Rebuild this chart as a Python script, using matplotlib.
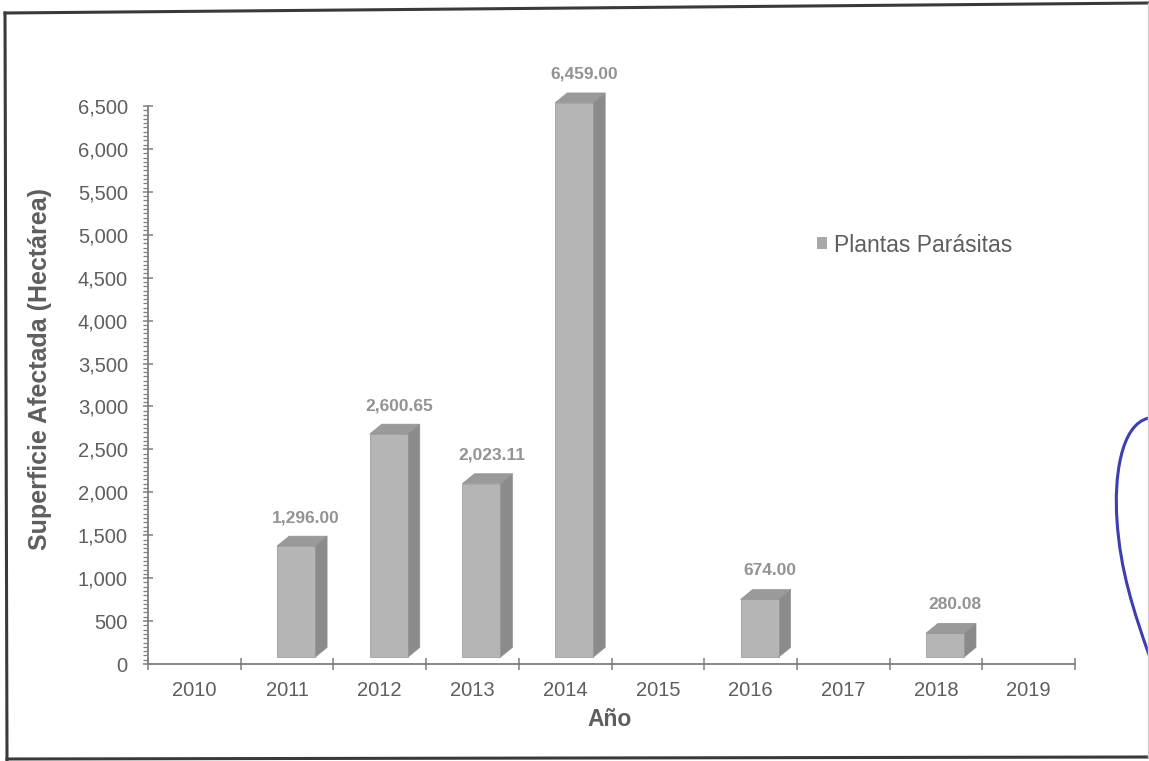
import matplotlib
matplotlib.use("Agg")
import matplotlib.pyplot as plt
from matplotlib.patches import Polygon, Patch, PathPatch
from matplotlib.lines import Line2D
from matplotlib.path import Path
from matplotlib.ticker import MultipleLocator, FixedLocator, FuncFormatter

# ---- data -------------------------------------------------------------
years = ["2010", "2011", "2012", "2013", "2014",
         "2015", "2016", "2017", "2018", "2019"]
superficie = [None, 1296.00, 2600.65, 2023.11, 6459.00,
              None, 674.00, None, 280.08, None]
serie = "Plantas Parásitas"
y_label = "Superficie Afectada (Hectárea)"
x_label = "Año"

# ---- style ------------------------------------------------------------
plt.rcParams["font.family"] = ["Liberation Sans", "DejaVu Sans"]
FRONT = "#b5b5b5"
SIDE = "#8b8b8b"
TOP = "#9a9a9a"
EDGE = "#939393"
AXIS = "#7f7f7f"
TEXT = "#5e5e5e"
VALUE_TEXT = "#939393"

W = 0.41          # width of the bar front face (category units)
FRONT_SHIFT = -0.108
DX = 0.13         # depth of the pseudo-3D bars, horizontal
DY = 115          # depth of the pseudo-3D bars, vertical (value units)
LIFT = 78         # front face sits slightly above the floor line

FW, FH = 1149, 761
fig = plt.figure(figsize=(FW / 100, FH / 100), dpi=100)
fig.patch.set_facecolor("white")


def fx(px):
    return px / FW


def fy(py):
    return 1 - py / FH


ax = fig.add_axes([fx(148), fy(664), (1075 - 148) / FW, (664 - 106) / FH])
ax.set_xlim(0, len(years))
ax.set_ylim(0, 6500)
ax.patch.set_alpha(0)

for s in ("top", "right"):
    ax.spines[s].set_visible(False)
for s in ("left", "bottom"):
    ax.spines[s].set_color(AXIS)
    ax.spines[s].set_linewidth(1.3)

# y axis ticks
ax.yaxis.set_major_locator(MultipleLocator(500))
ax.yaxis.set_minor_locator(MultipleLocator(50))
ax.yaxis.set_major_formatter(FuncFormatter(lambda v, p: f"{v:,.0f}"))
ax.tick_params(axis="y", which="major", direction="inout", length=7,
               width=1.1, color=AXIS, labelsize=14.5, labelcolor=TEXT, pad=11)
ax.tick_params(axis="y", which="minor", direction="out", length=3.5,
               width=0.9, color=AXIS)

# x axis: ticks between categories, labels at the centres
ax.xaxis.set_major_locator(FixedLocator(range(len(years) + 1)))
ax.xaxis.set_major_formatter(FuncFormatter(lambda v, p: ""))
ax.xaxis.set_minor_locator(FixedLocator([i + 0.5 for i in range(len(years))]))
ax.set_xticklabels(years, minor=True)
ax.tick_params(axis="x", which="major", direction="inout", length=9,
               width=1.1, color=AXIS)
ax.tick_params(axis="x", which="minor", length=0, labelsize=14.5,
               labelcolor=TEXT, pad=12)

# ---- bars -------------------------------------------------------------
for i, v in enumerate(superficie):
    if v is None:
        continue
    xl = i + 0.5 + FRONT_SHIFT
    xr = xl + W
    b = LIFT
    t = LIFT + v
    ax.bar(xl, v, width=W, bottom=b, align="edge", color=FRONT,
           edgecolor=EDGE, linewidth=0.5, clip_on=False, zorder=3)
    side = Polygon([(xr, b), (xr + DX, b + DY), (xr + DX, t + DY), (xr, t)],
                   closed=True, facecolor=SIDE, edgecolor=EDGE,
                   linewidth=0.5, clip_on=False, zorder=2)
    top = Polygon([(xl, t), (xl + DX, t + DY), (xr + DX, t + DY), (xr, t)],
                  closed=True, facecolor=TOP, edgecolor=EDGE,
                  linewidth=0.5, clip_on=False, zorder=2)
    ax.add_patch(side)
    ax.add_patch(top)
    ax.annotate(f"{v:,.2f}", xy=((xl + xr + DX) / 2, t + DY),
                xytext=(3, 8), textcoords="offset points",
                ha="center", va="bottom", fontsize=12.5, fontweight="bold",
                color=VALUE_TEXT, annotation_clip=False)

# ---- legend -----------------------------------------------------------
handle = Patch(facecolor="#a8a8a8", edgecolor="none", label=serie)
leg = ax.legend(handles=[handle], loc="center left",
                bbox_to_anchor=(fx(817), fy(245)),
                bbox_transform=fig.transFigure, frameon=False,
                fontsize=16.5, handlelength=0.42, handleheight=0.42,
                handletextpad=0.3, borderpad=0, borderaxespad=0)
for txt in leg.get_texts():
    txt.set_color(TEXT)

# ---- axis titles ------------------------------------------------------
fig.text(fx(40), fy(369), y_label, rotation=90, ha="center", va="center",
         fontsize=18, fontweight="bold", color=TEXT)
fig.text(fx(610), fy(720), x_label, ha="center", va="center",
         fontsize=16.5, fontweight="bold", color=TEXT)

# ---- page frame -------------------------------------------------------
frame = dict(color="#3a3a3a", linewidth=2.2, transform=fig.transFigure)
fig.add_artist(Line2D([fx(5), fx(1149)], [fy(13), fy(3)], **frame))
fig.add_artist(Line2D([fx(5), fx(7)], [fy(13), fy(760)], **frame))
fig.add_artist(Line2D([fx(7), fx(1149)], [fy(759), fy(757)], **frame))
fig.add_artist(Line2D([fx(1147.5), fx(1147.5)], [fy(3), fy(757)],
                      color="#d0d0d0", linewidth=1.0,
                      transform=fig.transFigure))

# ink stroke near the right margin
verts = [(1149, 418), (1120, 424), (1114, 480), (1117, 520),
         (1120, 570), (1134, 612), (1149, 655)]
codes = [Path.MOVETO, Path.CURVE4, Path.CURVE4, Path.CURVE4,
         Path.CURVE4, Path.CURVE4, Path.CURVE4]
ink = Path([(fx(px), fy(py)) for px, py in verts], codes)
fig.add_artist(PathPatch(ink, facecolor="none", edgecolor="#3d3fb0",
                         linewidth=2.2, transform=fig.transFigure))

fig.savefig("out.png", dpi=100, facecolor="white")
